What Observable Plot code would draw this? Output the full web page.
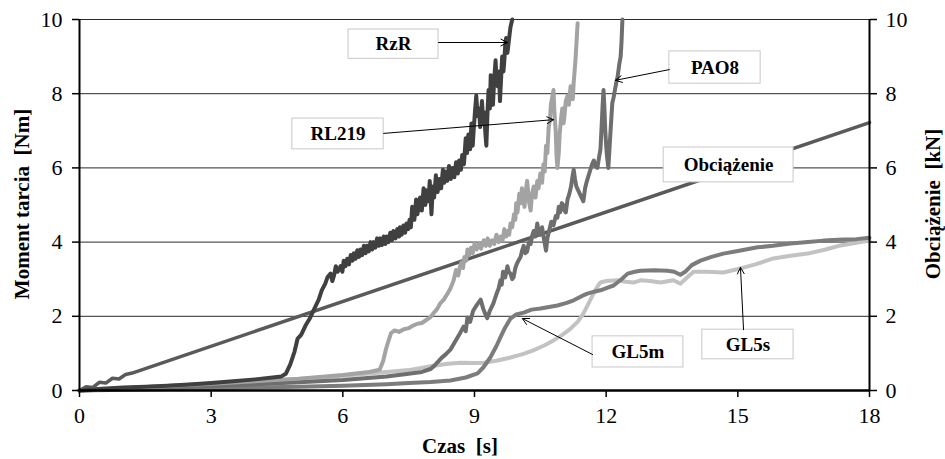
<!DOCTYPE html>
<html><head><meta charset="utf-8">
<script src="https://cdn.jsdelivr.net/npm/d3@7"></script>
<script src="https://cdn.jsdelivr.net/npm/@observablehq/plot@0.6"></script>
<style>html,body{margin:0;padding:0;background:#fff}svg{display:block}
#chart svg, #chart svg text{font-family:"Liberation Serif","DejaVu Serif","Noto Serif","Times New Roman",Times,serif !important;}
</style>
</head><body><div id="chart"></div>
<script>
// ---- data (time [s], value) ----
const xTicks = [0, 3, 6, 9, 12, 15, 18];
const yTicks = [0, 2, 4, 6, 8, 10];

const RzR = [[0,0],[0.5,0.05],[1,0.08],[1.5,0.1],[2,0.13],[2.5,0.16],[3,0.2],[3.5,0.25],[4,0.3],[4.4,0.35],[4.6,0.38],[4.7,0.45],[4.8,0.7],[4.9,1.05],[4.97,1.4],[5.05,1.5],[5.15,1.75],[5.25,1.95],[5.35,2.2],[5.45,2.45],[5.52,2.7],[5.6,2.88],[5.65,3.05],[5.72,3.15],[5.76,2.95],[5.8,3.1],[5.84,3.35],[5.88,3.2],[5.95,3.35],[5.99,3.2],[6.02,3.5],[6.06,3.35],[6.1,3.55],[6.14,3.4],[6.18,3.65],[6.22,3.5],[6.25,3.7],[6.29,3.55],[6.33,3.78],[6.37,3.6],[6.4,3.8],[6.44,3.65],[6.48,3.9],[6.52,3.7],[6.55,3.9],[6.59,3.75],[6.63,4.0],[6.67,3.8],[6.7,4.0],[6.74,3.85],[6.78,4.1],[6.82,3.9],[6.85,4.1],[6.89,3.92],[6.93,4.15],[6.97,3.95],[7.0,4.15],[7.04,4.0],[7.08,4.25],[7.12,4.05],[7.15,4.3],[7.2,4.1],[7.24,4.35],[7.28,4.15],[7.3,4.4],[7.34,4.2],[7.38,4.45],[7.42,4.25],[7.45,4.5],[7.49,4.35],[7.52,4.6],[7.55,4.4],[7.58,4.95],[7.63,4.6],[7.67,5.15],[7.7,4.75],[7.76,5.2],[7.8,4.85],[7.84,5.45],[7.88,5.0],[7.9,5.4],[7.95,5.1],[7.98,5.65],[8.02,4.75],[8.05,5.5],[8.08,5.2],[8.12,5.8],[8.16,5.35],[8.2,5.7],[8.24,5.45],[8.28,5.95],[8.31,5.6],[8.35,5.9],[8.38,5.65],[8.42,6.05],[8.46,5.7],[8.5,6.0],[8.54,5.75],[8.58,6.15],[8.62,5.85],[8.65,6.2],[8.69,5.95],[8.72,6.35],[8.76,6.1],[8.8,6.8],[8.83,6.4],[8.86,6.9],[8.9,6.5],[8.93,7.2],[8.96,6.6],[8.98,7.0],[9.01,7.5],[9.04,7.95],[9.07,7.4],[9.1,7.6],[9.13,7.1],[9.17,7.8],[9.2,7.2],[9.22,7.5],[9.25,6.9],[9.27,6.6],[9.3,7.6],[9.32,8.1],[9.35,7.6],[9.37,8.5],[9.4,8.0],[9.42,7.7],[9.45,8.4],[9.48,8.9],[9.5,8.4],[9.53,8.2],[9.56,8.6],[9.58,7.8],[9.61,8.5],[9.63,9.0],[9.66,8.6],[9.68,8.9],[9.7,9.3],[9.72,9.5],[9.75,9.1],[9.77,9.3],[9.8,9.6],[9.82,9.8],[9.86,10]];

const RL219 = [[0,0],[1,0.06],[2,0.12],[3,0.18],[4,0.25],[5,0.32],[6,0.42],[6.6,0.5],[6.84,0.56],[6.92,0.8],[6.98,1.1],[7.03,1.3],[7.1,1.55],[7.18,1.62],[7.28,1.58],[7.39,1.65],[7.5,1.68],[7.6,1.75],[7.7,1.8],[7.8,1.82],[7.9,1.9],[7.99,1.97],[8.08,2.1],[8.15,2.2],[8.22,2.35],[8.3,2.45],[8.38,2.6],[8.45,2.75],[8.52,2.95],[8.58,3.25],[8.63,3.1],[8.67,3.35],[8.7,3.45],[8.74,3.3],[8.77,3.6],[8.81,3.5],[8.84,3.8],[8.88,3.65],[8.92,3.85],[8.96,3.7],[9.0,3.95],[9.05,3.8],[9.1,3.95],[9.15,3.82],[9.21,4.05],[9.26,3.9],[9.3,4.1],[9.35,3.9],[9.4,4.05],[9.45,3.95],[9.5,4.2],[9.55,4.0],[9.59,4.15],[9.64,4.05],[9.68,4.35],[9.72,4.15],[9.75,4.3],[9.79,4.2],[9.82,4.5],[9.86,4.4],[9.9,4.75],[9.93,4.6],[9.95,5.05],[9.98,4.8],[10.02,5.3],[10.05,5.05],[10.08,5.45],[10.11,5.1],[10.14,4.95],[10.17,5.4],[10.2,5.65],[10.24,5.1],[10.28,4.85],[10.31,5.3],[10.35,5.5],[10.39,5.2],[10.43,5.65],[10.46,5.45],[10.5,5.85],[10.54,5.6],[10.57,6.1],[10.6,5.9],[10.63,6.6],[10.66,6.4],[10.69,7.1],[10.72,7.3],[10.74,7.7],[10.77,7.9],[10.8,8.1],[10.82,7.5],[10.85,7.0],[10.87,6.3],[10.89,6.0],[10.92,6.4],[10.94,6.9],[10.97,7.3],[11.0,7.6],[11.03,7.2],[11.05,7.4],[11.08,7.8],[11.12,7.95],[11.15,7.7],[11.19,8.2],[11.22,8.0],[11.24,7.85],[11.26,8.3],[11.28,8.6],[11.3,8.9],[11.32,9.3],[11.35,9.9]];

const PAO8 = [[0,0],[1,0.04],[2,0.08],[3,0.12],[4,0.17],[5,0.22],[6,0.28],[7,0.38],[7.5,0.45],[7.8,0.5],[8.0,0.58],[8.07,0.65],[8.15,0.75],[8.25,0.88],[8.35,0.98],[8.45,1.1],[8.55,1.3],[8.65,1.5],[8.75,1.72],[8.8,1.6],[8.84,1.97],[8.9,1.85],[8.97,2.15],[9.05,2.3],[9.14,2.45],[9.2,2.2],[9.25,2.05],[9.29,1.95],[9.35,2.15],[9.43,2.35],[9.5,2.6],[9.55,2.75],[9.59,2.97],[9.62,2.85],[9.65,3.2],[9.7,3.05],[9.75,3.35],[9.78,3.2],[9.82,3.15],[9.86,3.0],[9.89,3.05],[9.93,3.3],[9.96,3.4],[10.0,3.5],[10.05,3.6],[10.08,3.75],[10.12,3.9],[10.16,3.7],[10.2,3.75],[10.24,4.0],[10.28,3.95],[10.32,4.2],[10.35,4.3],[10.39,4.15],[10.43,4.5],[10.46,4.3],[10.5,4.2],[10.54,4.4],[10.58,4.1],[10.61,3.9],[10.63,3.77],[10.66,4.1],[10.7,4.3],[10.75,4.55],[10.8,4.45],[10.85,4.7],[10.89,4.66],[10.92,4.95],[10.95,4.8],[10.99,5.05],[11.02,5.0],[11.05,4.85],[11.08,4.8],[11.12,5.15],[11.16,5.3],[11.2,5.5],[11.23,5.75],[11.26,5.95],[11.29,5.7],[11.32,5.5],[11.36,5.4],[11.4,5.3],[11.44,5.2],[11.48,5.1],[11.52,5.45],[11.55,5.6],[11.6,5.8],[11.64,5.95],[11.68,6.1],[11.72,6.2],[11.76,6.05],[11.8,6.0],[11.84,6.3],[11.87,6.5],[11.9,7.2],[11.92,7.7],[11.94,8.1],[11.96,7.6],[11.98,7.0],[12.0,6.6],[12.02,6.3],[12.05,6.0],[12.08,6.6],[12.1,7.0],[12.14,7.75],[12.17,7.9],[12.2,8.1],[12.23,8.3],[12.26,8.45],[12.3,8.8],[12.33,9.0],[12.35,9.4],[12.36,9.7],[12.37,10]];

const GL5m = [[0,0],[1,0.02],[2,0.04],[3,0.06],[4,0.08],[5,0.1],[6,0.13],[7,0.17],[7.5,0.2],[8,0.23],[8.45,0.27],[8.8,0.35],[9.07,0.46],[9.2,0.62],[9.36,0.89],[9.5,1.2],[9.59,1.43],[9.7,1.7],[9.82,1.94],[9.95,2.05],[10.12,2.1],[10.3,2.18],[10.5,2.21],[10.7,2.25],[10.89,2.29],[11.1,2.36],[11.26,2.43],[11.45,2.55],[11.57,2.61],[11.75,2.67],[11.87,2.7],[12.05,2.78],[12.17,2.83],[12.35,3.0],[12.49,3.15],[12.65,3.2],[12.78,3.23],[13.1,3.24],[13.4,3.23],[13.55,3.2],[13.69,3.12],[13.8,3.2],[13.95,3.38],[14.15,3.5],[14.4,3.6],[14.67,3.69],[15.0,3.76],[15.45,3.86],[15.8,3.9],[16.2,3.96],[16.6,4.0],[16.95,4.04],[17.4,4.07],[17.7,4.08],[18,4.12]];

const GL5s = [[0,0],[1,0.06],[2,0.12],[3,0.18],[4,0.25],[5,0.31],[6,0.4],[7,0.5],[7.5,0.55],[8.07,0.67],[8.4,0.72],[8.68,0.75],[9.0,0.74],[9.21,0.75],[9.5,0.8],[9.82,0.89],[10.1,0.98],[10.34,1.08],[10.6,1.22],[10.8,1.35],[11.0,1.5],[11.19,1.67],[11.35,1.85],[11.48,2.07],[11.6,2.35],[11.71,2.61],[11.8,2.8],[11.87,2.91],[12.0,2.95],[12.26,2.97],[12.45,2.93],[12.62,2.91],[12.78,2.97],[13.0,2.95],[13.24,2.91],[13.53,2.97],[13.69,2.88],[13.85,3.05],[13.99,3.2],[14.3,3.2],[14.67,3.18],[15.06,3.29],[15.4,3.4],[15.81,3.56],[16.2,3.63],[16.59,3.69],[17.0,3.8],[17.34,3.91],[17.7,3.98],[18,4.04]];

const Obciazenie = [[0,0],[0.15,0.1],[0.3,0.08],[0.45,0.22],[0.6,0.2],[0.75,0.33],[0.9,0.31],[1.05,0.43],[1.2,0.47],[18,7.22]];

const seriesNames = ["Obciążenie", "GL5s", "GL5m", "PAO8", "RL219", "RzR"];
const seriesData = [Obciazenie, GL5s, GL5m, PAO8, RL219, RzR];
const seriesColors = ["#5a5a5a", "#c2c2c2", "#7c7c7c", "#6e6e6e", "#a3a3a3", "#404040"];

// annotation labels: text, box extent and arrow ends in data units
const labelText = ["RzR", "RL219", "PAO8", "Obciążenie", "GL5m", "GL5s"];
const labelBox = [[6.13,8.18,8.94,9.73],[4.85,6.93,6.50,7.33],[13.44,15.52,8.27,9.14],[13.31,16.27,5.61,6.55],[11.69,13.76,0.62,1.46],[14.19,16.27,0.84,1.64]];
const arrowFrom = [[8.18,9.38],[6.93,6.93],[13.44,8.65],null,[11.69,0.97],[15.13,1.64]];
const arrowTo   = [[9.75,9.38],[10.80,7.30],[12.21,8.36],null,[10.09,1.94],[15.06,3.32]];

// ---- build tables ----
const rows = seriesData.flatMap((s, i) => s.map(([t, v]) => ({name: seriesNames[i], t, v})));
const boxes = labelText.map((text, i) => ({text, x1: labelBox[i][0], x2: labelBox[i][1], y1: labelBox[i][2], y2: labelBox[i][3]}));
const arrows = labelText.map((text, i) => arrowFrom[i] ? {x1: arrowFrom[i][0], y1: arrowFrom[i][1], x2: arrowTo[i][0], y2: arrowTo[i][1]} : null).filter(Boolean);

const FONT = '"Liberation Serif","DejaVu Serif","Noto Serif","Times New Roman",Times,serif';

const chart = Plot.plot({
  width: 945, height: 459,
  marginLeft: 79, marginRight: 76, marginTop: 19, marginBottom: 69,
  x: {domain: [0, 18]},
  y: {domain: [0, 10]},
  color: {domain: seriesNames, range: seriesColors},
  style: {fontFamily: FONT, background: "#fff", color: "#000"},
  marks: [
    Plot.gridY(yTicks.filter(d => d > 0), {stroke: "#2a2a2a", strokeOpacity: 1, strokeWidth: 1}),
    Plot.line(rows, {x: "t", y: "v", z: "name", stroke: "name", strokeWidth: d => d.name === "Obciążenie" ? 3.5 : 4, strokeLinejoin: "round", curve: "linear"}),
    Plot.ruleX([0, 18], {stroke: "#000", strokeWidth: 2}),
    Plot.ruleY([0], {stroke: "#000", strokeWidth: 2.5}),
    Plot.axisY(yTicks, {anchor: "left", tickSize: 7, tickPadding: 10, fontSize: 22, label: null, stroke: "#000", strokeWidth: 1.5}),
    Plot.axisY(yTicks, {anchor: "right", tickSize: 7, tickPadding: 9, fontSize: 22, label: null, stroke: "#000", strokeWidth: 1.5}),
    Plot.axisX(xTicks, {anchor: "bottom", tickSize: 7, tickPadding: 10, fontSize: 22, label: null, stroke: "#000", strokeWidth: 1.5}),
    Plot.rect(boxes, {x1: "x1", x2: "x2", y1: "y1", y2: "y2", fill: "#fff", stroke: "#c8c8c8", strokeWidth: 1}),
    Plot.text(boxes, {x: d => (d.x1 + d.x2) / 2, y: d => (d.y1 + d.y2) / 2, text: "text", fontSize: 19, fontWeight: "bold", fill: "#000"}),
    Plot.arrow(arrows, {x1: "x1", y1: "y1", x2: "x2", y2: "y2", stroke: "#000", strokeWidth: 1, headLength: 11, headAngle: 55})
  ]
});

// axis titles
const svg = d3.select(chart);
const titleStyle = s => s.attr("font-family", FONT).attr("font-weight", "bold").attr("font-size", 21).attr("fill", "#000").attr("text-anchor", "middle");
svg.append("text").call(titleStyle).attr("x", 460).attr("y", 453).text("Czas\u00a0 [s]");
svg.append("text").call(titleStyle).attr("transform", "translate(22,204) rotate(-90)").attr("dy", "0.35em").text("Moment tarcia\u00a0 [Nm]");
svg.append("text").call(titleStyle).attr("transform", "translate(933,204) rotate(-90)").attr("dy", "0.35em").text("Obciążenie\u00a0 [kN]");

document.getElementById("chart").appendChild(chart);
</script>
</body></html>
